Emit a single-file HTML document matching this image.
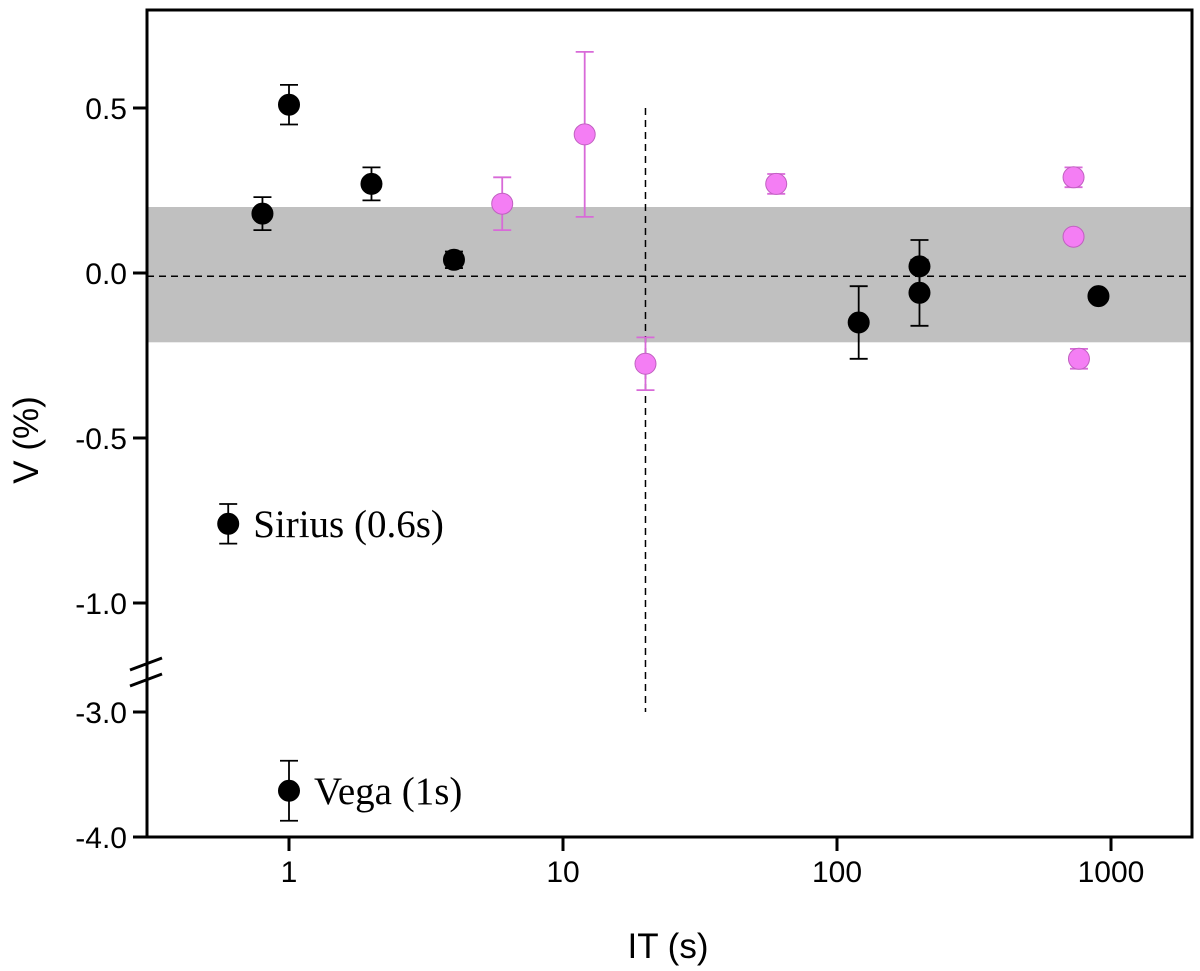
<!DOCTYPE html>
<html><head><meta charset="utf-8"><style>
html,body{margin:0;padding:0;background:#fff;}
svg{display:block;font-family:"Liberation Sans",Arial,sans-serif;}
</style></head><body>
<svg id="chart" width="1200" height="971" viewBox="0 0 1200 971" xmlns="http://www.w3.org/2000/svg">
<g id="plot"></g>
</svg>
<script>
// Data
const blackX = [0.8, 1, 2, 4, 120, 200, 200, 900];
const blackY = [0.18, 0.51, 0.27, 0.04, -0.15, 0.02, -0.06, -0.07];
const blackErr = [0.05, 0.06, 0.05, 0.025, 0.11, 0.08, 0.10, 0];
const pinkX = [6, 12, 20, 60, 730, 730, 764];
const pinkY = [0.21, 0.42, -0.275, 0.27, 0.29, 0.11, -0.26];
const pinkErr = [0.08, 0.25, 0.08, 0.03, 0.03, 0, 0.03];
const refX = [0.6, 1];
const refY = [-0.76, -3.63];
const refErr = [0.06, 0.24];
const refLabels = ["Sirius (0.6s)", "Vega (1s)"];
const xTicks = [1, 10, 100, 1000];
const xTickLabels = ["1", "10", "100", "1000"];
const yTicksUpper = [0.5, 0.0, -0.5, -1.0];
const yTicksUpperLabels = ["0.5", "0.0", "-0.5", "-1.0"];
const yTicksLower = [-3.0, -4.0];
const yTicksLowerLabels = ["-3.0", "-4.0"];
const bandLow = -0.21, bandHigh = 0.2;
const refLineY = -0.01;
const vLineX = 20;

const NS = "http://www.w3.org/2000/svg";
const L = 147, R = 1192, T = 10, B = 837;
function xs(v){ return 289 + 274 * Math.log10(v); }
function ys(v){ return v > -2 ? 273 - 330 * v : 712 - 125 * (v + 3); }
const g = document.getElementById('plot');
function el(tag, attrs, parent){
  const e = document.createElementNS(NS, tag);
  for (const k in attrs) e.setAttribute(k, attrs[k]);
  (parent || g).appendChild(e);
  return e;
}
const band = el('rect', {x:L, y:ys(bandHigh), width:R-L, height:ys(bandLow)-ys(bandHigh), fill:'#c0c0c0'});


const hl = el('line', {x1:L, x2:R, y1:ys(refLineY), y2:ys(refLineY), stroke:'#000', 'stroke-width':1.5, 'stroke-dasharray':'7,5'});


const vl = el('line', {x1:xs(vLineX), x2:xs(vLineX), y1:ys(0.5), y2:ys(-3.0), stroke:'#000', 'stroke-width':1.5, 'stroke-dasharray':'7,5'});



function point(x, y, e, fill, stroke, ecol, name){
  const cx = xs(x), cy = ys(y);
  if (e > 0) {
    const eb = el('path', {d:`M${cx},${ys(y+e)}V${ys(y-e)}M${cx-9},${ys(y+e)}H${cx+9}M${cx-9},${ys(y-e)}H${cx+9}`, stroke:ecol, 'stroke-width':1.8, fill:'none'});
    
    
  }
  const c = el('circle', {cx:cx, cy:cy, r:10.5, fill:fill, stroke:stroke, 'stroke-width':1});
  
  
}
for (let i = 0; i < blackX.length; i++) point(blackX[i], blackY[i], blackErr[i], '#000', '#000', '#000', 'black-point');
for (let i = 0; i < pinkX.length; i++) point(pinkX[i], pinkY[i], pinkErr[i], '#f47ef4', '#c060c0', '#d86ad8', 'magenta-point');
for (let i = 0; i < refX.length; i++) {
  point(refX[i], refY[i], refErr[i], '#000', '#000', '#000', 'reference-star-point');
  const t = el('text', {x:xs(refX[i]) + 25, y:ys(refY[i]) + 13, 'font-family':'"Liberation Serif","Times New Roman",serif', 'font-size':39, fill:'#000'});
  t.textContent = refLabels[i];
  
  
}
const fr = el('rect', {x:L, y:T, width:R-L, height:B-T, fill:'none', stroke:'#000', 'stroke-width':3});


const brk = el('path', {d:'M130,670 L162,658 M130,686 L162,674', stroke:'#000', 'stroke-width':3, fill:'none'});


for (let i = 0; i < xTicks.length; i++) {
  const x = xs(xTicks[i]);
  const tk = el('line', {x1:x, x2:x, y1:B, y2:B+14, stroke:'#000', 'stroke-width':3});
  
  
  const t = el('text', {x:x, y:B+45, 'text-anchor':'middle', 'font-size':30, fill:'#000'});
  t.textContent = xTickLabels[i];
  
  
}
function ytick(v, lab){
  const y = ys(v);
  const tk = el('line', {x1:L-14, x2:L, y1:y, y2:y, stroke:'#000', 'stroke-width':3});
  
  
  const t = el('text', {x:L-20, y:y+11, 'text-anchor':'end', 'font-size':30, fill:'#000'});
  t.textContent = lab;
  
  
}
for (let i = 0; i < yTicksUpper.length; i++) ytick(yTicksUpper[i], yTicksUpperLabels[i]);
for (let i = 0; i < yTicksLower.length; i++) ytick(yTicksLower[i], yTicksLowerLabels[i]);
const xt = el('text', {x:668, y:958, 'text-anchor':'middle', 'font-size':35, fill:'#000'});
xt.textContent = 'IT (s)';


const yt = el('text', {x:0, y:0, transform:'translate(38,440) rotate(-90)', 'text-anchor':'middle', 'font-size':35, fill:'#000'});
yt.textContent = 'V (%)';


</script>
</body></html>
